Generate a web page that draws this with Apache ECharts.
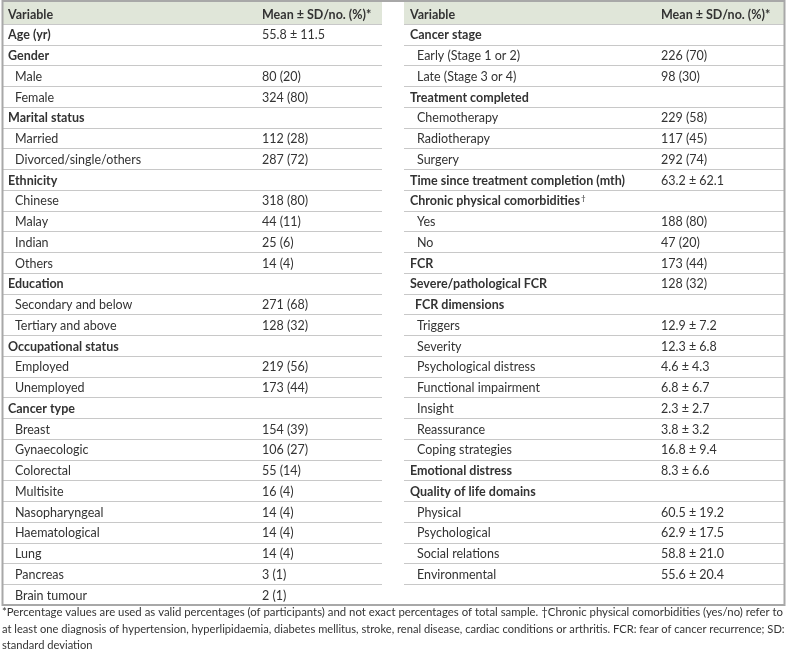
<!DOCTYPE html>
<html>
<head>
<meta charset="utf-8">
<script src="https://cdn.jsdelivr.net/npm/echarts@6/dist/echarts.min.js"></script>
<style>html,body{margin:0;padding:0;background:#fff}#c{width:786px;height:651px}</style>
</head>
<body>
<div id="c"></div>
<script>
const headerVariable = 'Variable';
const headerValue = 'Mean ± SD/no. (%)*';

const leftVariables = ['Age (yr)','Gender','Male','Female','Marital status','Married','Divorced/single/others','Ethnicity','Chinese','Malay','Indian','Others','Education','Secondary and below','Tertiary and above','Occupational status','Employed','Unemployed','Cancer type','Breast','Gynaecologic','Colorectal','Multisite','Nasopharyngeal','Haematological','Lung','Pancreas','Brain tumour'];
const leftValues = ['55.8 ± 11.5','','80 (20)','324 (80)','','112 (28)','287 (72)','','318 (80)','44 (11)','25 (6)','14 (4)','','271 (68)','128 (32)','','219 (56)','173 (44)','','154 (39)','106 (27)','55 (14)','16 (4)','14 (4)','14 (4)','14 (4)','3 (1)','2 (1)'];
const leftHeadings = ['Age (yr)','Gender','Marital status','Ethnicity','Education','Occupational status','Cancer type'];

const rightVariables = ['Cancer stage','Early (Stage 1 or 2)','Late (Stage 3 or 4)','Treatment completed','Chemotherapy','Radiotherapy','Surgery','Time since treatment completion (mth)','Chronic physical comorbidities†','Yes','No','FCR','Severe/pathological FCR','FCR dimensions','Triggers','Severity','Psychological distress','Functional impairment','Insight','Reassurance','Coping strategies','Emotional distress','Quality of life domains','Physical','Psychological','Social relations','Environmental',''];
const rightValues = ['','226 (70)','98 (30)','','229 (58)','117 (45)','292 (74)','63.2 ± 62.1','','188 (80)','47 (20)','173 (44)','128 (32)','','12.9 ± 7.2','12.3 ± 6.8','4.6 ± 4.3','6.8 ± 6.7','2.3 ± 2.7','3.8 ± 3.2','16.8 ± 9.4','8.3 ± 6.6','','60.5 ± 19.2','62.9 ± 17.5','58.8 ± 21.0','55.6 ± 20.4',''];
const rightHeadings = ['Cancer stage','Treatment completed','Time since treatment completion (mth)','Chronic physical comorbidities†','FCR','Severe/pathological FCR','Emotional distress','Quality of life domains'];
const rightSubHeadings = ['FCR dimensions'];

const footnoteLines = [
  '*Percentage values are used as valid percentages (of participants) and not exact percentages of total sample. †Chronic physical comorbidities (yes/no) refer to',
  'at least one diagnosis of hypertension, hyperlipidaemia, diabetes mellitus, stroke, renal disease, cardiac conditions or arthritis. FCR: fear of cancer recurrence; SD:',
  'standard deviation'
];

const FONT = 'Lato, "Noto Sans", sans-serif';
const TXT = '#333333';
const chart = echarts.init(document.getElementById('c'), null, {renderer: 'canvas'});

function makeRows(vars, vals) {
  const names = [headerVariable].concat(vars);
  const values = [headerValue].concat(vals);
  return {names, values};
}
const L = makeRows(leftVariables, leftValues);
const R = makeRows(rightVariables, rightValues);

function renderer(tbl, headings, subHeadings, valX) {
  return function (params, api) {
    const i = params.dataIndex;
    const c = api.coord([0, i]);
    const h = api.size([0, 1])[1];
    const w = api.size([380, 0])[0];
    const children = [];
    const name = tbl.names[i];
    const val = tbl.values[i];
    let bold = false, indent = 6;
    if (i === 0) {
      bold = true;
      children.push({type: 'rect', shape: {x: c[0], y: c[1] - h / 2 - 1.5, width: w, height: h + 1.5}, style: {fill: '#e0e6d9'}});
    } else if (headings.indexOf(name) >= 0) {
      bold = true;
    } else if (subHeadings.indexOf(name) >= 0) {
      bold = true; indent = 11;
    } else {
      indent = 13;
    }
    const fw = bold ? 'bold' : 'normal';
    const hasDagger = name.indexOf('†') >= 0;
    children.push({
      type: 'text',
      style: {
        x: c[0] + indent, y: c[1] + 1,
        text: hasDagger ? '{a|' + name.replace('†', '') + '}{s|†}' : name,
        rich: hasDagger ? {a: {font: fw + ' 12.5px ' + FONT, fill: TXT}, s: {font: 'normal 8px ' + FONT, fill: TXT, verticalAlign: 'top', padding: [0,0,6,1]}} : undefined,
        font: fw + ' 12.5px ' + FONT, fill: TXT, textVerticalAlign: 'middle', textAlign: 'left'
      }
    });
    if (val) {
      children.push({
        type: 'text',
        style: {
          x: c[0] + valX, y: c[1] + 1, text: val,
          font: (i === 0 ? 'bold' : 'normal') + ' 12.5px ' + FONT, fill: TXT,
          textVerticalAlign: 'middle', textAlign: 'left'
        }
      });
    }
    return {type: 'group', children};
  };
}

function yAxisFor(gridIndex, n) {
  return {
    type: 'category', gridIndex, inverse: true,
    data: Array.from({length: n}, (_, k) => String(k)),
    axisLabel: {show: false}, axisTick: {show: false}, axisLine: {show: false},
    splitLine: {show: true, interval: 0, lineStyle: {color: '#c8c8c8', width: 1}}
  };
}
function xAxisFor(gridIndex) {
  return {type: 'value', gridIndex, min: 0, max: 380, show: false, splitLine: {show: false}};
}

chart.setOption({
  animation: false,
  grid: [
    {left: 2, top: 3.25, width: 380, height: 601.75},
    {left: 404, top: 3.25, width: 380, height: 601.75}
  ],
  xAxis: [xAxisFor(0), xAxisFor(1)],
  yAxis: [yAxisFor(0, L.names.length), yAxisFor(1, R.names.length)],
  series: [
    {type: 'custom', xAxisIndex: 0, yAxisIndex: 0, renderItem: renderer(L, leftHeadings, [], 260),
     data: L.names.map((_, k) => [0, k]), encode: {x: 0, y: 1}, silent: true},
    {type: 'custom', xAxisIndex: 1, yAxisIndex: 1, renderItem: renderer(R, rightHeadings, rightSubHeadings, 257),
     data: R.names.map((_, k) => [0, k]), encode: {x: 0, y: 1}, silent: true}
  ],
  graphic: [
    {type: 'rect', z: 100, shape: {x: 2.5, y: 1, width: 782, height: 604}, style: {fill: null, stroke: '#a8a8a8', lineWidth: 2}},
    {type: 'text', x: 2, y: 607, scaleX: 1.034, style: {text: footnoteLines[0], font: 'normal 11px ' + FONT, fill: TXT}},
    {type: 'text', x: 2, y: 624, scaleX: 1.012, style: {text: footnoteLines[1], font: 'normal 11px ' + FONT, fill: TXT}},
    {type: 'text', x: 2, y: 640, scaleX: 1.012, style: {text: footnoteLines[2], font: 'normal 11px ' + FONT, fill: TXT}}
  ]
});
</script>
</body>
</html>
